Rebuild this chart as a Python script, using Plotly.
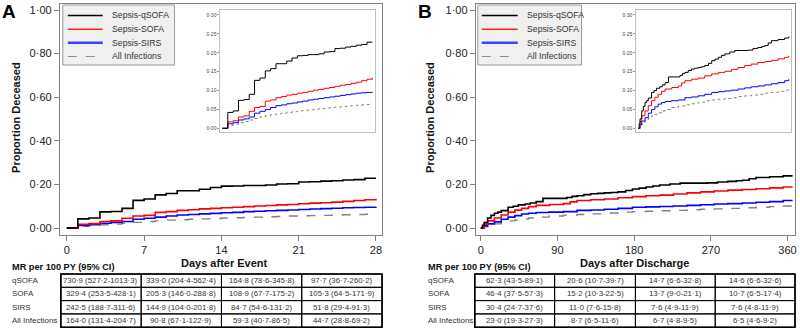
import plotly.graph_objects as go

W, H = 800, 328
def px(x): return x / W
def py(y): return 1 - y / H

FONT = "Liberation Sans, Arial, sans-serif"

# ---------------- data ----------------
series_names = ["Sepsis-qSOFA", "Sepsis-SOFA", "Sepsis-SIRS", "All Infections"]
series_colors = ["#000000", "#ff0000", "#0000ff", "#808080"]
series_dash = ["solid", "solid", "solid", "dash"]

# Panel A: days after event (0-28)
days_a = list(range(29))
a_qsofa = [0, 0.042, 0.046, 0.074, 0.076, 0.09, 0.127, 0.133, 0.152, 0.158, 0.171, 0.171, 0.178, 0.186,
           0.192, 0.193, 0.195, 0.195, 0.197, 0.202, 0.203, 0.211, 0.212, 0.215, 0.217, 0.22, 0.222, 0.228, 0.228]
a_sofa = [0, 0.017, 0.02, 0.03, 0.033, 0.045, 0.055, 0.058, 0.072, 0.075, 0.081, 0.084, 0.088, 0.09,
          0.093, 0.095, 0.098, 0.101, 0.103, 0.106, 0.108, 0.111, 0.114, 0.116, 0.119, 0.122, 0.126, 0.13, 0.134]
a_sirs = [0, 0.012, 0.015, 0.022, 0.025, 0.03, 0.04, 0.045, 0.05, 0.055, 0.06, 0.062, 0.065, 0.067,
          0.07, 0.072, 0.075, 0.077, 0.079, 0.081, 0.083, 0.085, 0.087, 0.089, 0.091, 0.093, 0.094, 0.095, 0.096]
a_all = [0, 0.008, 0.011, 0.015, 0.018, 0.022, 0.026, 0.03, 0.033, 0.036, 0.038, 0.04, 0.042, 0.044,
         0.046, 0.047, 0.049, 0.05, 0.052, 0.053, 0.055, 0.056, 0.057, 0.058, 0.06, 0.061, 0.062, 0.063, 0.065]

# Panel B: days after discharge (0-365)
b_qsofa_days = [0, 2, 4, 8, 12, 16, 20, 24, 32, 38, 44, 52, 58, 65, 73, 101, 107, 113, 121, 129,
                137, 145, 153, 161, 170, 178, 186, 194, 202, 210, 222, 234, 250, 266, 278, 290, 300, 307,
                315, 323, 339, 355, 365]
b_qsofa = [0, 0.012, 0.025, 0.046, 0.058, 0.068, 0.073, 0.08, 0.095, 0.1, 0.106, 0.11, 0.115, 0.121,
           0.136, 0.14, 0.145, 0.148, 0.153, 0.157, 0.159, 0.161, 0.163, 0.166, 0.172, 0.179, 0.183,
           0.188, 0.193, 0.197, 0.202, 0.206, 0.206, 0.207, 0.211, 0.214, 0.217, 0.219, 0.226, 0.232,
           0.235, 0.239, 0.243]
b_sofa_days = [0, 4, 8, 16, 24, 32, 40, 48, 56, 65, 81, 97, 105, 113, 129, 145, 161, 178, 194, 210,
               226, 242, 258, 274, 290, 307, 323, 339, 355, 365]
b_sofa = [0, 0.018, 0.033, 0.046, 0.06, 0.073, 0.082, 0.09, 0.098, 0.104, 0.108, 0.112, 0.12, 0.126,
          0.13, 0.133, 0.139, 0.144, 0.148, 0.151, 0.156, 0.161, 0.166, 0.17, 0.174, 0.177, 0.18,
          0.184, 0.188, 0.192]
b_other_days = [0, 4, 8, 16, 24, 32, 40, 48, 56, 65, 80, 97, 113, 129, 145, 161, 178, 194, 210, 226,
                242, 258, 274, 290, 307, 323, 339, 355, 365]
b_sirs = [0, 0.01, 0.019, 0.028, 0.04, 0.05, 0.057, 0.064, 0.068, 0.071, 0.073, 0.075, 0.081, 0.083,
          0.086, 0.09, 0.095, 0.097, 0.099, 0.101, 0.104, 0.107, 0.11, 0.112, 0.115, 0.118, 0.121,
          0.126, 0.13]
b_all = [0, 0.006, 0.011, 0.019, 0.026, 0.033, 0.037, 0.041, 0.046, 0.05, 0.055, 0.059, 0.062, 0.065,
         0.069, 0.073, 0.075, 0.077, 0.079, 0.081, 0.084, 0.086, 0.088, 0.09, 0.093, 0.095, 0.098,
         0.101, 0.104]

main_ticks = [0, 0.2, 0.4, 0.6, 0.8, 1.0]
main_ticktext = ["0·00", "0·20", "0·40", "0·60", "0·80", "1·00"]
inset_ticks = [0, 0.05, 0.10, 0.15, 0.20, 0.25, 0.30]
inset_ticktext = ["0·00", "0·05", "0·10", "0·15", "0·20", "0·25", "0·30"]
a_xticks = [0, 7, 14, 21, 28]
b_xticks = [0, 90, 180, 270, 360]

table_rows = ["qSOFA", "SOFA", "SIRS", "All Infections"]
table_a = [
    ["730·9 (527·2-1013·3)", "339·0 (204·4-562·4)", "164·8 (78·6-345·8)", "97·7 (36·7-260·2)"],
    ["329·4 (253·5-428·1)", "205·3 (146·0-288·8)", "108·9 (67·7-175·2)", "105·3 (64·5-171·9)"],
    ["242·5 (188·7-311·6)", "144·9 (104·0-201·8)", "84·7 (54·6-131·2)", "51·8 (29·4-91·3)"],
    ["164·0 (131·4-204·7)", "90·8 (67·1-122·9)", "59·3 (40·7-86·5)", "44·7 (28·8-69·2)"],
]
table_b = [
    ["62·3 (43·5-89·1)", "20·6 (10·7-39·7)", "14·7 (6·6-32·8)", "14·6 (6·6-32·6)"],
    ["46·4 (37·5-57·3)", "15·2 (10·3-22·5)", "13·7 (9·0-21·1)", "10·7 (6·5-17·4)"],
    ["30·4 (24·7-37·6)", "11·0 (7·6-15·8)", "7·6 (4·9-11·9)", "7·6 (4·8-11·9)"],
    ["23·0 (19·3-27·3)", "8·7 (6·5-11·6)", "6·7 (4·8-9·5)", "6·5 (4·6-9·2)"],
]

# ---------------- figure ----------------
fig = go.Figure()

a_data = [(days_a, a_qsofa), (days_a, a_sofa), (days_a, a_sirs), (days_a, a_all)]
b_data = [(b_qsofa_days, b_qsofa), (b_sofa_days, b_sofa), (b_other_days, b_sirs), (b_other_days, b_all)]

for panel, (data, xm, ym, xi, yi) in enumerate([(a_data, "x", "y", "x2", "y2"),
                                                  (b_data, "x3", "y3", "x4", "y4")]):
    for i in reversed(range(4)):
        xs, ys = data[i]
        fig.add_trace(go.Scatter(x=xs, y=ys, mode="lines", line_shape="hv", xaxis=xm, yaxis=ym,
                                 line=dict(color=series_colors[i], width=1.6 if i < 3 else 1.4,
                                           dash=series_dash[i]),
                                 showlegend=False, name=series_names[i], hoverinfo="skip"))
        fig.add_trace(go.Scatter(x=xs, y=ys, mode="lines", line_shape="hv", xaxis=xi, yaxis=yi,
                                 line=dict(color=series_colors[i], width=1.0,
                                           dash="dot" if i == 3 else "solid"),
                                 showlegend=False, name=series_names[i], hoverinfo="skip"))

AXC = "#808080"
def main_x(dom, rng, ticks, anchor):
    return dict(domain=dom, range=rng, tickvals=ticks, ticktext=[str(t) for t in ticks],
                ticks="outside", ticklen=5, tickcolor=AXC, showline=True, mirror=True,
                linecolor=AXC, linewidth=1, showgrid=False, zeroline=False, anchor=anchor,
                tickfont=dict(size=11, color="#222", family=FONT))
def main_y(dom, anchor):
    return dict(domain=dom, range=[-0.032, 1.0275], tickvals=main_ticks, ticktext=main_ticktext,
                ticks="outside", ticklen=5, tickcolor=AXC, showline=True, mirror=True,
                linecolor=AXC, linewidth=1, showgrid=False, zeroline=False, anchor=anchor,
                tickfont=dict(size=11, color="#222", family=FONT))
def inset_x(dom, rng, anchor):
    return dict(domain=dom, range=rng, showticklabels=False, ticks="", showline=True, mirror=True,
                linecolor="#c0c0c0", linewidth=1, showgrid=False, zeroline=False, anchor=anchor)
def inset_y(dom, anchor):
    return dict(domain=dom, range=[-0.0098, 0.3132], tickvals=inset_ticks, ticktext=inset_ticktext,
                ticks="outside", ticklen=2, tickcolor="#999", showline=True, mirror=True,
                linecolor="#c0c0c0", linewidth=1, showgrid=False, zeroline=False, anchor=anchor,
                tickfont=dict(size=5, color="#444", family=FONT))

fig.update_layout(
    width=W, height=H, margin=dict(l=0, r=0, t=0, b=0),
    paper_bgcolor="white", plot_bgcolor="white", showlegend=False,
    font=dict(family=FONT, color="#222"),
    xaxis=main_x([px(60), px(383)], [-0.63, 28.55], a_xticks, "y"),
    yaxis=main_y([py(235), py(4)], "x"),
    xaxis2=inset_x([px(221), px(376)], [-0.37, 28.5], "y2"),
    yaxis2=inset_y([py(132), py(10)], "x2"),
    xaxis3=main_x([px(477), px(797)], [-5.85, 368.8], b_xticks, "y3"),
    yaxis3=main_y([py(235), py(4)], "x3"),
    xaxis4=inset_x([px(638), px(793)], [-4.84, 370.6], "y4"),
    yaxis4=inset_y([py(132), py(10)], "x4"),
)

shapes = []
annots = []

def ann(x, y, text, size, bold=False, xanchor="center", angle=0, color="#222"):
    annots.append(dict(x=px(x), y=py(y), xref="paper", yref="paper", text=f"<b>{text}</b>" if bold else text,
                       showarrow=False, xanchor=xanchor, yanchor="middle", textangle=angle,
                       font=dict(size=size, color=color, family=FONT)))

# panel letters, axis titles
for letter, lx, ycx, xt_x in [("A", 0, 11, 16), ("B", 417, 11, 431)]:
    ann(lx, ycx, letter, 19, bold=True, xanchor="left", color="#000")
    ann(xt_x, 117, "Proportion Deceased", 11, bold=True, angle=-90, color="#111")
ann(225, 263, "Days after Event", 11, bold=True, color="#111")
ann(636, 263, "Days after Discharge", 11, bold=True, color="#111")

# legends (manual)
for bx0, bx1, lx0, lx1, tx in [(63, 175, 68, 103, 110), (479, 583, 483, 519, 526)]:
    shapes.append(dict(type="rect", xref="paper", yref="paper", x0=px(bx0), x1=px(bx1), y0=py(65), y1=py(5),
                       fillcolor="#f0f0f0", line=dict(color="#9a9a9a", width=1)))
    for i, ry in enumerate([15.5, 29.3, 42.8, 56.5]):
        shapes.append(dict(type="line", xref="paper", yref="paper", x0=px(lx0), x1=px(lx1), y0=py(ry), y1=py(ry),
                           line=dict(color=["#000000", "#ff2020", "#4040ff", "#909090"][i],
                                     width=[1.5, 1.5, 2.5, 1.2][i], dash=series_dash[i])))
        ann(tx, ry, series_names[i], 8.7, xanchor="left", color="#333")

# tables
row_top, row_h = 274, 13.3
for lab_x, cols, tbl in [(10, [61, 141.5, 222, 302.5, 383], table_a),
                         (427, [476, 556, 637, 717, 797], table_b)]:
    ann(lab_x, 267, "MR per 100 PY (95% CI)", 9.2, bold=True, xanchor="left", color="#111")
    for r, lab in enumerate(table_rows):
        yc = row_top + row_h * (r + 0.5)
        ann(lab_x, yc, lab, 8, xanchor="left", color="#333")
        for c in range(4):
            shapes.append(dict(type="rect", xref="paper", yref="paper", x0=px(cols[c]), x1=px(cols[c + 1]),
                               y0=py(row_top + row_h * (r + 1)), y1=py(row_top + row_h * r),
                               line=dict(color="#000", width=1)))
            ann((cols[c] + cols[c + 1]) / 2, yc, tbl[r][c], 7.8, color="#333")
    shapes.append(dict(type="rect", xref="paper", yref="paper", x0=px(cols[0]), x1=px(cols[-1]),
                       y0=py(row_top + row_h * 4), y1=py(row_top), line=dict(color="#000", width=1.6)))

fig.update_layout(shapes=shapes, annotations=annots)
fig.write_html("out.html", config={"displayModeBar": False},
               post_script="document.body.style.margin='0';document.body.style.padding='0';")
